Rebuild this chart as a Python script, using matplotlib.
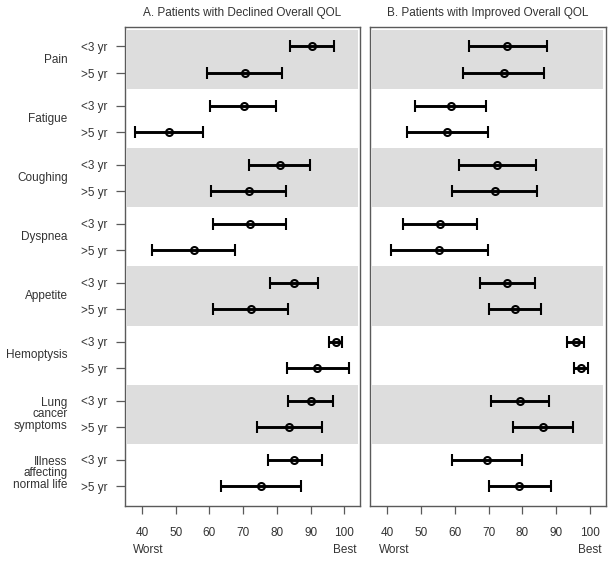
"""
Forest-style chart of QOL domain scores (<3 yr vs >5 yr survivors),
two panels: declined vs improved overall QOL.
"""

import numpy as np
import matplotlib.pyplot as plt
from matplotlib.transforms import blended_transform_factory

plt.rcParams["font.family"] = ["Liberation Sans", "DejaVu Sans"]

categories = ["Pain", "Fatigue", "Coughing", "Dyspnea", "Appetite",
              "Hemoptysis", "Lung\ncancer\nsymptoms", "Illness\naffecting\nnormal life"]
subgroups = ["<3 yr", ">5 yr"]
panel_titles = ["A. Patients with Declined Overall QOL",
                "B. Patients with Improved Overall QOL"]

# panel A: declined overall QOL
a_lt3_mean = [90.4, 70.1, 80.9, 71.9, 85.0, 97.4, 90.2, 85.2]
a_lt3_lo = [83.8, 60.3, 71.7, 61.1, 77.8, 95.5, 83.4, 77.3]
a_lt3_hi = [97.0, 79.7, 89.9, 82.7, 92.3, 99.3, 96.6, 93.2]
a_gt5_mean = [70.5, 48.1, 71.6, 55.3, 72.2, 92.0, 83.7, 75.3]
a_gt5_lo = [59.4, 38.1, 60.5, 43.0, 61.1, 83.0, 74.2, 63.5]
a_gt5_hi = [81.6, 58.2, 82.7, 67.6, 83.2, 101.2, 93.2, 87.2]

# panel B: improved overall QOL
b_lt3_mean = [75.6, 58.8, 72.6, 55.7, 75.5, 95.8, 79.4, 69.6]
b_lt3_lo = [64.3, 48.3, 61.4, 44.8, 67.6, 93.3, 70.7, 59.3]
b_lt3_hi = [87.2, 69.3, 84.0, 66.5, 83.7, 98.1, 88.0, 79.8]
b_gt5_mean = [74.5, 57.8, 71.8, 55.5, 77.7, 97.2, 86.0, 79.0]
b_gt5_lo = [62.6, 45.9, 59.3, 41.1, 70.0, 95.1, 77.2, 70.1]
b_gt5_hi = [86.4, 69.7, 84.2, 69.9, 85.5, 99.5, 94.9, 88.3]

x_ticks = [40, 50, 60, 70, 80, 90, 100]

panels = [
    (a_lt3_mean, a_lt3_lo, a_lt3_hi, a_gt5_mean, a_gt5_lo, a_gt5_hi),
    (b_lt3_mean, b_lt3_lo, b_lt3_hi, b_gt5_mean, b_gt5_lo, b_gt5_hi),
]

TEXT = "#333333"
FRAME = "#5a5a5a"
BAND = "#dddddd"

n = len(categories)
centers = np.arange(n)[::-1].astype(float)
offset = 0.225

fig = plt.figure(figsize=(6.14, 5.62), dpi=100)
axes_list = [fig.add_axes([0.2036, 0.1002, 0.3827, 0.8523]),
             fig.add_axes([0.6026, 0.1002, 0.3839, 0.8523])]

for k, (ax, data) in enumerate(zip(axes_list, panels)):
    lt_mean, lt_lo, lt_hi, gt_mean, gt_lo, gt_hi = [np.array(d) for d in data]
    ax.set_xlim(35, 104.6)
    ax.set_ylim(-0.55, n - 0.44)

    # alternating grey bands
    for i, c in enumerate(centers):
        if i % 2 == 0:
            ax.axhspan(c - 0.5, c + 0.5, xmin=0.01, xmax=0.99,
                       color=BAND, lw=0, zorder=0)

    for mean, lo, hi, ys in [(lt_mean, lt_lo, lt_hi, centers + offset),
                             (gt_mean, gt_lo, gt_hi, centers - offset)]:
        ax.errorbar(mean, ys, xerr=[mean - lo, hi - mean], fmt="o",
                    color="black", ecolor="black", elinewidth=2.1,
                    capsize=4.6, capthick=2.1, markersize=5,
                    markerfacecolor="none", markeredgewidth=1.5, zorder=3)

    for spine in ax.spines.values():
        spine.set_color(FRAME)
        spine.set_linewidth(1.0)

    ax.set_xticks(x_ticks)
    ax.set_xticklabels([str(t) for t in x_ticks])
    ax.tick_params(axis="x", length=6, width=0.9, color=FRAME,
                   labelcolor=TEXT, labelsize=8.5, pad=9)

    trans = blended_transform_factory(ax.transData, ax.transAxes)
    ax.text(42, -0.0925, "Worst", transform=trans, ha="center",
            va="center", fontsize=8.5, color=TEXT)
    ax.text(100, -0.0925, "Best", transform=trans, ha="center",
            va="center", fontsize=8.5, color=TEXT)

    ax.set_title(panel_titles[k], fontsize=8.5, color=TEXT, pad=8)

    if k == 0:
        yt = np.concatenate([centers + offset, centers - offset])
        yl = [subgroups[0]] * n + [subgroups[1]] * n
        ax.set_yticks(yt)
        ax.set_yticklabels(yl)
        ax.tick_params(axis="y", length=6.5, width=0.9, color=FRAME,
                       labelcolor=TEXT, labelsize=8.5, pad=6)
        ytrans = ax.get_yaxis_transform()
        for c, name in zip(centers, categories):
            ax.text(-0.244, c, name, transform=ytrans, ha="right",
                    va="center", fontsize=8.5, color=TEXT,
                    linespacing=0.95, multialignment="right")
    else:
        ax.set_yticks([])

fig.savefig("out.png", dpi=100)
